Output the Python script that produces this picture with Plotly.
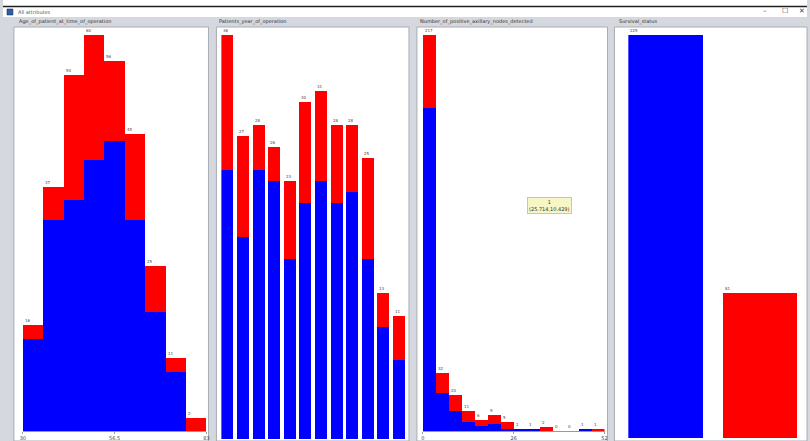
import plotly.graph_objects as go

# ---------------- data ----------------
panel_titles = ["Age_of_patient_at_time_of_operation", "Patients_year_of_operation",
                "Number_of_positive_axillary_nodes_detected", "Survival_status"]

# Age: 9 bins from 30 to 83
age_min, age_max = 30, 83
age_blue = [14, 32, 35, 41, 44, 32, 18, 9, 0]
age_red = [2, 5, 19, 19, 12, 13, 7, 2, 2]
age_ticks = ["30", "56.5", "83"]

# Year of operation (nominal)
years = ["58", "59", "60", "61", "62", "63", "64", "65", "66", "67", "68", "69"]
year_blue = [24, 18, 24, 23, 16, 21, 23, 21, 22, 16, 10, 7]
year_red = [12, 9, 4, 3, 7, 9, 8, 7, 6, 9, 3, 4]

# Nodes: 14 bins from 0 to 52
nodes_min, nodes_max = 0, 52
nodes_blue = [177, 21, 11, 5, 3, 4, 1, 1, 1, 0, 0, 0, 1, 0]
nodes_red = [40, 11, 9, 6, 3, 5, 4, 0, 0, 2, 0, 0, 0, 1]
nodes_ticks = ["0", "26", "52"]

# Survival status (nominal)
status = ["1", "2"]
status_blue = [225, 0]
status_red = [0, 81]

tooltip_text = "1<br>(25.714,10.429)"
window_title = "All attributes"

# ---------------- geometry helpers ----------------
W, H = 810, 441
def px(x):
    return x / W
def py(y):
    return 1 - y / H

BLUE, RED = "#0000ff", "#ff0000"
GRAY = "#d5d8de"
FONT = "DejaVu Sans"

fig = go.Figure()

def add_panel(idx, xs, blue, red, width, left_edges):
    xa = "x" if idx == 1 else f"x{idx}"
    ya = "y" if idx == 1 else f"y{idx}"
    fig.add_trace(go.Bar(x=xs, y=blue, width=width, marker=dict(color=BLUE, line=dict(width=0)),
                         xaxis=xa, yaxis=ya, showlegend=False, hoverinfo="skip"))
    fig.add_trace(go.Bar(x=xs, y=red, width=width, marker=dict(color=RED, line=dict(width=0)),
                         xaxis=xa, yaxis=ya, showlegend=False, hoverinfo="skip"))
    for le, b, r in zip(left_edges, blue, red):
        fig.add_annotation(x=le, y=b + r, xref=xa, yref=ya, text=str(b + r), showarrow=False,
                           xanchor="left", yanchor="bottom",
                           font=dict(size=4, color="#444", family=FONT))

# Panel 1: age
bw = (age_max - age_min) / len(age_blue)
age_x = [age_min + bw * (i + 0.5) for i in range(len(age_blue))]
age_le = [age_min + bw * i for i in range(len(age_blue))]
add_panel(1, age_x, age_blue, age_red, bw, age_le)

# Panel 2: years
yw = 0.77
yx = list(range(len(years)))
add_panel(2, yx, year_blue, year_red, yw, [i - yw / 2 for i in yx])

# Panel 3: nodes
nw = (nodes_max - nodes_min) / len(nodes_blue)
nodes_x = [nodes_min + nw * (i + 0.5) for i in range(len(nodes_blue))]
nodes_le = [nodes_min + nw * i for i in range(len(nodes_blue))]
add_panel(3, nodes_x, nodes_blue, nodes_red, nw, nodes_le)

# Panel 4: status
sw = 0.79
sx = list(range(len(status)))
add_panel(4, sx, status_blue, status_red, sw, [i - sw / 2 for i in sx])

age_tot = [b + r for b, r in zip(age_blue, age_red)]
year_tot = [b + r for b, r in zip(year_blue, year_red)]
nodes_tot = [b + r for b, r in zip(nodes_blue, nodes_red)]
status_tot = [b + r for b, r in zip(status_blue, status_red)]

hidden_y = dict(showgrid=False, zeroline=False, showticklabels=False, showline=False, fixedrange=True)
hidden_x = dict(showgrid=False, zeroline=False, showticklabels=False, showline=False, ticks="")
num_x = dict(showgrid=False, zeroline=False, showline=True, linecolor="#9a9a9a", linewidth=1,
             ticks="outside", ticklen=2, tickcolor="#9a9a9a",
             tickfont=dict(size=5, color="#444", family=FONT))

fig.update_layout(
    width=W, height=H, margin=dict(l=0, r=0, t=0, b=0),
    paper_bgcolor=GRAY, plot_bgcolor="rgba(0,0,0,0)", barmode="stack",
    xaxis=dict(domain=[px(20), px(205)], range=[age_min, age_max], anchor="y",
               tickvals=[age_min, (age_min + age_max) / 2, age_max], ticktext=age_ticks, **num_x),
    yaxis=dict(domain=[py(431), py(35)], range=[0, max(age_tot)], anchor="x", **hidden_y),
    xaxis2=dict(domain=[px(220), px(405)], range=[-yw / 2, len(years) - 1 + yw / 2], anchor="y2", **hidden_x),
    yaxis2=dict(domain=[py(439), py(35)], range=[0, max(year_tot)], anchor="x2", **hidden_y),
    xaxis3=dict(domain=[px(423), px(606)], range=[nodes_min, nodes_max], anchor="y3",
                tickvals=[nodes_min, (nodes_min + nodes_max) / 2, nodes_max], ticktext=nodes_ticks, **num_x),
    yaxis3=dict(domain=[py(431), py(35)], range=[0, max(nodes_tot)], anchor="x3", **hidden_y),
    xaxis4=dict(domain=[px(630), px(800)], range=[-sw / 2, len(status) - 1 + sw / 2], anchor="y4", **hidden_x),
    yaxis4=dict(domain=[py(438), py(35)], range=[0, max(status_tot)], anchor="x4", **hidden_y),
)

shapes = []
# window title bar
shapes.append(dict(type="rect", xref="paper", yref="paper", x0=0, x1=1, y0=py(17), y1=1,
                   fillcolor="white", line=dict(width=0), layer="below"))
shapes.append(dict(type="line", xref="paper", yref="paper", x0=0, x1=1, y0=py(6.5), y1=py(6.5),
                   line=dict(color="#222", width=1.5), layer="above"))
# icon
shapes.append(dict(type="rect", xref="paper", yref="paper", x0=px(4), x1=px(10), y0=py(15), y1=py(9),
                   fillcolor="#2a5fb0", line=dict(color="#123", width=0.5), layer="above"))
# white plotting areas
for (x0, x1, y1) in [(11, 207, 441), (215, 409, 441), (417, 609, 441), (616, 810, 441)]:
    shapes.append(dict(type="rect", xref="paper", yref="paper", x0=px(x0), x1=px(x1), y0=py(y1), y1=py(27),
                       fillcolor="white", line=dict(color="#a8acb3", width=1), layer="below"))
fig.update_layout(shapes=shapes)

# panel titles
for x0, t in zip([14, 216, 418, 619], panel_titles):
    fig.add_annotation(x=px(x0), y=py(22), xref="paper", yref="paper", text=t, showarrow=False,
                       xanchor="left", yanchor="middle", font=dict(size=5, color="#333", family=FONT))
# window title & controls
fig.add_annotation(x=px(13), y=py(12), xref="paper", yref="paper", text=window_title, showarrow=False,
                   xanchor="left", yanchor="middle", font=dict(size=5, color="#555", family=FONT))
for x0, t in zip([768, 788, 805], ["–", "☐", "✕"]):
    fig.add_annotation(x=px(x0), y=py(11), xref="paper", yref="paper", text=t, showarrow=False,
                       xanchor="center", yanchor="middle", font=dict(size=7, color="#444", family=FONT))
# tooltip
fig.add_annotation(x=px(551), y=py(206), xref="paper", yref="paper", text=tooltip_text, showarrow=False,
                   xanchor="center", yanchor="middle", bgcolor="#f6f6c6", bordercolor="#c9c9a0",
                   borderwidth=1, borderpad=1, font=dict(size=5, color="#333", family=FONT))

fig.write_html("out.html", config={"displayModeBar": False},
               post_script="document.body.style.margin='0';document.body.style.overflow='hidden';")
